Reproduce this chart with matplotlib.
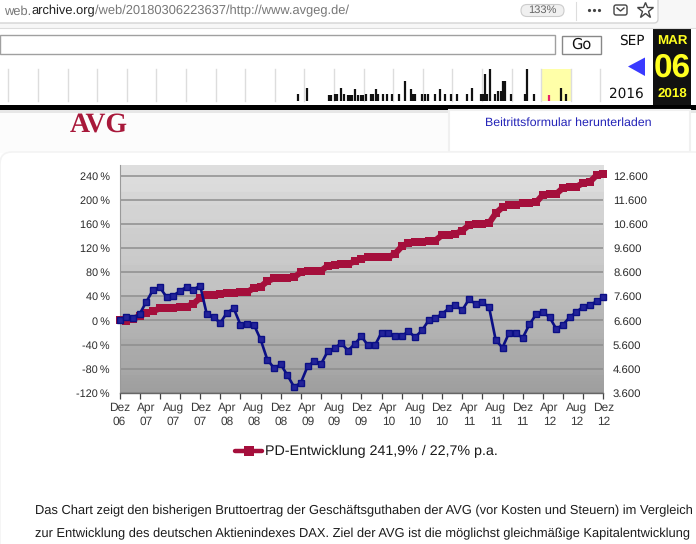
import matplotlib
matplotlib.use("Agg")
import numpy as np
import matplotlib.pyplot as plt
from matplotlib.patches import Rectangle, FancyBboxPatch, Polygon

# ---------- data ----------
months = list(range(73))
pd_entwicklung = [0, -1, 3, 7, 13, 15.5, 20, 21, 21.5, 22.7, 23, 27.6, 37.6, 42, 42.5, 43.7, 44.8, 46, 46.5, 47,
                  54, 56, 65, 70, 70, 71, 72, 80, 82, 82, 82.4, 91, 92, 93, 93.5, 98, 102, 105, 105, 105, 105,
                  110.6, 122.8, 129, 130.5, 130.5, 132.7, 132.7, 141.6, 141.6, 143.8, 149, 158, 160, 160, 161.5,
                  178, 188, 192, 192, 194.7, 195, 196, 208.5, 210, 210, 220, 222, 222, 228, 230, 241, 242.7]
dax = [0, 5, 4, 11, 31, 51, 55, 39, 41, 49, 56, 51, 58, 10, 5.5, -4, 13, 20, -7, -5.5, -7, -31.5, -65, -79, -73,
       -91, -110.6, -103, -76, -67.5, -72, -51, -46, -37.6, -50, -39, -26.5, -41.5, -41.5, -20, -20, -26, -26,
       -18, -27.6, -16.6, 0, 3.9, 11, 20, 25, 17, 35, 27.6, 30, 22, -33, -45, -20, -21, -29, -6.6, 10, 14, 5.5,
       -14, -7, 5.5, 14, 23, 26, 31.5, 38.7]
left_ticks = [-120, -80, -40, 0, 40, 80, 120, 160, 200, 240]
left_labels = ["-120\u2009%", "-80\u2009%", "-40\u2009%", "0\u2009%", "40\u2009%", "80\u2009%", "120\u2009%",
               "160\u2009%", "200\u2009%", "240\u2009%"]
right_ticks = [3600, 4600, 5600, 6600, 7600, 8600, 9600, 10600, 11600, 12600]
right_labels = ["3.600", "4.600", "5.600", "6.600", "7.600", "8.600", "9.600", "10.600", "11.600", "12.600"]
x_label_months = list(range(0, 73, 4))
x_labels = ["Dez\n06", "Apr\n07", "Aug\n07", "Dez\n07", "Apr\n08", "Aug\n08", "Dez\n08", "Apr\n09", "Aug\n09",
            "Dez\n09", "Apr\n10", "Aug\n10", "Dez\n10", "Apr\n11", "Aug\n11", "Dez\n11", "Apr\n12", "Aug\n12", "Dez\n12"]
x_tick_months = list(range(0, 73, 3))
legend_text = "PD-Entwicklung 241,9% / 22,7% p.a."
para_lines = ["Das Chart zeigt den bisherigen Bruttoertrag der Geschäftsguthaben der AVG (vor Kosten und Steuern) im Vergleich",
              "zur Entwicklung des deutschen Aktienindexes DAX. Ziel der AVG ist die möglichst gleichmäßige Kapitalentwicklung"]
capture_x = [298, 307, 329, 331, 335, 337, 341, 344, 348, 350, 352, 355, 358, 361, 363, 366, 371, 373, 376, 378,
             383, 387, 392, 399, 405, 411, 413, 415, 422, 425, 428, 435, 440, 445, 451, 457, 467, 472, 481, 483,
             485, 487, 490, 495, 498, 501, 503, 505, 511, 525, 527, 534, 561, 566]
capture_h = [7, 13, 6, 6, 7, 7, 13, 7, 6, 6, 6, 12, 6, 6, 6, 7, 7, 7, 12, 7,
             7, 7, 7, 7, 20, 12, 7, 7, 7, 7, 7, 7, 12, 7, 7, 7, 7, 13, 7, 7,
             27, 7, 32, 7, 10, 10, 20, 20, 7, 7, 32, 7, 13, 7]

W, H = 696, 544
plt.rcParams["font.family"] = "Liberation Sans"
plt.rcParams["text.hinting"] = "no_hinting"
fig = plt.figure(figsize=(W / 100, H / 100), dpi=100, facecolor="white")

# ---------- screenshot surroundings (pixel coordinates) ----------
bg = fig.add_axes([0, 0, 1, 1], zorder=0)
bg.set_xlim(0, W); bg.set_ylim(H, 0); bg.axis("off")
bg.add_patch(Rectangle((0, 0), W, 28, fc="#f7f7f7", ec="none"))
bg.add_patch(FancyBboxPatch((-20, -10), 678, 33, boxstyle="round,pad=0,rounding_size=4", fc="white", ec="#d4d4d4", lw=1))
bg.add_patch(Rectangle((0, 28), W, 77, fc="white", ec="none"))
bg.plot([0, W], [28, 28], color="#dcdcdc", lw=0.8)
r = fig.canvas.get_renderer()
url_x = 4
for part, col in [("web.", "#777777"), ("archive.org", "#222222"),
                  ("/web/20180306223637/http://www.avgeg.de/", "#777777")]:
    t_ = bg.text(url_x, 14.5, part, fontsize=9.3, color=col, va="baseline")
    url_x += t_.get_window_extent(r).width + 0.3
bg.add_patch(FancyBboxPatch((521, 4.5), 43, 12, boxstyle="round,pad=0,rounding_size=6", fc="#f0f0f0", ec="#cccccc", lw=0.8))
bg.text(542.5, 10.5, "133%", fontsize=8, color="#666666", ha="center", va="center")
bg.plot([575.5, 575.5], [2, 20], color="#dddddd", lw=0.8)
bg.plot([589, 594, 599], [10, 10, 10], ls="none", marker="o", ms=2.3, color="#444444", mew=0)
bg.add_patch(FancyBboxPatch((614, 5), 13, 10, boxstyle="round,pad=0,rounding_size=2", fc="white", ec="#444444", lw=1))
bg.plot([617, 620.5, 624], [8, 11, 8], color="#444444", lw=1)
bg.plot([645], [10], marker="*", ms=12, mfc="white", mec="#444444", mew=1)

bg.add_patch(Rectangle((0, 34.5), 555, 19.5, fc="white", ec="#a0a0a0", lw=1))
bg.add_patch(Rectangle((561.5, 35.5), 39, 18.5, fc="white", ec="#888888", lw=1))
bg.text(581, 45, "Go", fontsize=10.5, color="#111111", ha="center", va="center", family="DejaVu Sans")

for gx in np.arange(8.3, 610, 29.6):
    bg.plot([gx, gx], [69, 101], color="#dddddd", lw=1)
bg.add_patch(Rectangle((541, 69), 30, 32, fc="#ffffa8", ec="none"))
bg.vlines(capture_x, [101 - h for h in capture_h], 101, color="#111111", lw=1.6)
bg.vlines([549], [95], 101, color="#e8206a", lw=1.6)

bg.text(631.5, 40.5, "SEP", fontsize=9.8, color="#111111", ha="center", va="center", family="DejaVu Sans")
bg.add_patch(Polygon([[628, 66.5], [645, 57.5], [645, 76]], fc="#3a3aff", ec="none"))
bg.text(626, 94, "2016", fontsize=9.8, color="#111111", ha="center", va="center", family="DejaVu Sans")
bg.add_patch(Rectangle((653, 29), 38, 76, fc="#111111", ec="none"))
bg.text(672, 40.5, "MAR", fontsize=9.6, color="#ffff20", ha="center", va="center", weight="bold")
bg.text(672, 68.5, "06", fontsize=24, color="#ffff20", ha="center", va="center", weight="bold")
bg.text(672, 94, "2018", fontsize=9.6, color="#ffff20", ha="center", va="center", weight="bold")
bg.add_patch(Rectangle((0, 104.5), W, 5.5, fc="black", ec="none"))
bg.add_patch(Rectangle((0, 110), W, 3, fc="#d8d8d8", ec="none", alpha=0.6))

bg.add_patch(Rectangle((0, 113), 449, 40, fc="#fcfcfc", ec="none"))
bg.add_patch(Rectangle((449, 110), 241, 42, fc="white", ec="#f0f0f0", lw=1.5))
bg.add_patch(FancyBboxPatch((0, 152), 800, 500, boxstyle="round,pad=0,rounding_size=12", fc="white", ec="#f3f3f3", lw=1.2))
bg.text(70, 125, "AVG", fontsize=20, color="#a8183a", va="center", weight="bold", family="Liberation Serif")
bg.text(485, 123, "Beitrittsformular herunterladen", fontsize=8.95, color="#2424b8", va="center")

# legend
bg.plot([235, 262], [450.5, 450.5], color="#a50f3c", lw=3.2, solid_capstyle="round")
bg.plot([248.5], [450.5], marker="s", ms=6.5, color="#a50f3c", mew=0)
bg.text(265, 451, legend_text, fontsize=10.3, color="#1a1a1a", va="center")

# body text: each line sized to span the justified column
for line, y, span in zip(para_lines, [514, 537], [656, 653]):
    a = bg.text(35, y, line, fontsize=9.4, color="#1c1c1c", va="baseline")
    a.set_fontsize(9.4 * span / a.get_window_extent(r).width)

# ---------- chart ----------
px_l, px_r, px_t, px_b = 119.5, 603.3, 165.0, 392.8
ax = fig.add_axes([px_l / W, 1 - px_b / H, (px_r - px_l) / W, (px_b - px_t) / H], zorder=2)
ax.set_facecolor("none")

# stepped grey background
band_rows = [27, 36, 37, 32, 42, 36, 18]
band_top = [222, 214, 206, 198, 186, 172, 163]
band_bot = [218, 209, 201, 193, 176, 166, 158]
grad = np.concatenate([np.linspace(a_, b_, n) for a_, b_, n in zip(band_top, band_bot, band_rows)])
ax.imshow(grad[:, None], cmap="gray", vmin=0, vmax=255, aspect="auto",
          extent=[0, 72, -120, 258], zorder=0, interpolation="nearest")
ax.set_xlim(0, 72); ax.set_ylim(-120, 258)

ax.set_yticks(left_ticks)
ax.set_yticklabels(left_labels)
ax.grid(axis="y", color="#8e8e8e", lw=1.1, zorder=1)
ax.tick_params(axis="y", length=0, pad=7, labelsize=7.8, labelcolor="#2a2a2a")
ax.set_axisbelow(True)

ax.xaxis.remove_overlapping_locs = False
ax.set_xticks(x_tick_months)
ax.set_xticklabels([])
ax.set_xticks(x_label_months, minor=True)
ax.set_xticklabels(x_labels, minor=True, linespacing=1.32)
ax.tick_params(axis="x", which="major", length=4.5, width=0.9, color="#444444", direction="out")
ax.tick_params(axis="x", which="minor", length=0, pad=6.5, labelsize=8.6, labelcolor="#3a3a3a")

for s in ["top", "right"]:
    ax.spines[s].set_visible(False)
ax.spines["left"].set_color("#9a9a9a")
ax.spines["left"].set_linewidth(0.8)
ax.spines["bottom"].set_color("#666666")
ax.spines["bottom"].set_linewidth(1.0)

ax.plot(months, pd_entwicklung, color="#a50f3c", lw=4.4, marker="s", ms=6.0, mew=0,
        clip_on=False, zorder=3, solid_joinstyle="miter")
ax.plot(months, dax, color="#0b0f85", lw=1.9, marker="s", ms=4.3, mfc="#23239a", mec="#0b0f85", mew=1.0,
        clip_on=False, zorder=4)

axr = ax.twinx()
axr.set_ylim(6600 + 25 * -120, 6600 + 25 * 258)
axr.set_yticks(right_ticks)
axr.set_yticklabels(right_labels)
axr.tick_params(axis="y", length=0, pad=7, labelsize=8.2, labelcolor="#2a2a2a")
for s in axr.spines.values():
    s.set_visible(False)

fig.savefig("out.png", dpi=100)
